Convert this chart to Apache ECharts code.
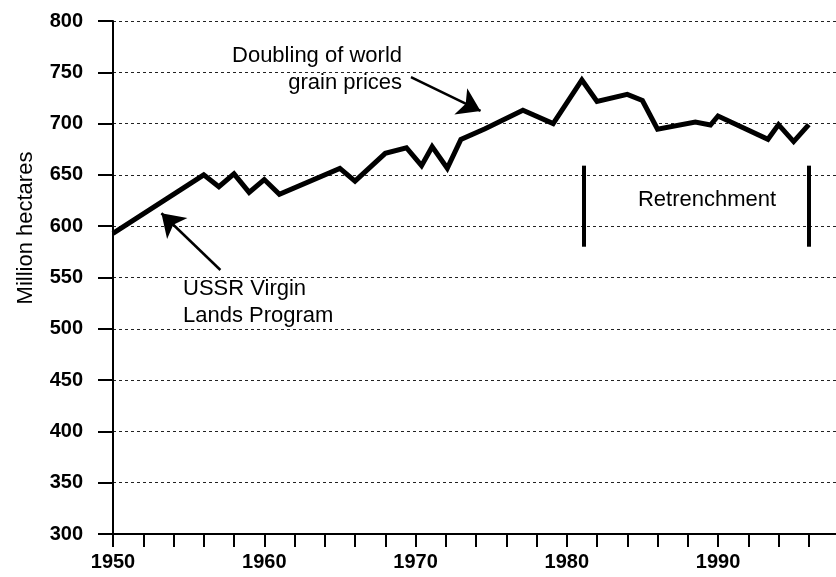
<!DOCTYPE html>
<html>
<head>
<meta charset="utf-8">
<script src="https://cdn.jsdelivr.net/npm/echarts@6/dist/echarts.min.js"></script>
<style>
  html, body { margin: 0; padding: 0; background: #fff; }
  #chart { width: 836px; height: 577px; }
</style>
</head>
<body>
<div id="chart"></div>
<script>
// vertices of the world grain area line (year, million hectares)
const years = [1950, 1956, 1957, 1958, 1959, 1960, 1961, 1965, 1966, 1968, 1969.4, 1970.4, 1971.1, 1972.1, 1973,
  1974.6, 1977.1, 1979.1, 1981, 1982, 1984, 1985, 1986, 1988.5, 1989.5, 1990, 1993.3, 1994, 1995, 1996];
const hectares = [593, 650, 638.5, 651, 633, 645.5, 631, 656.4, 644, 671, 676.5, 659, 677.5, 656.5, 684.5,
  695, 713, 700, 742.5, 721.5, 728.5, 722.5, 694.5, 701.5, 698.6, 707.4, 684.7, 699, 682.5, 699];
const labelYears = [1950, 1960, 1970, 1980, 1990];

// annotation arrows and retrenchment bars, in data units
const arrowPrices = [[1969.7, 745.4], [1974.3, 712.3]];
const arrowVirgin = [[1957.1, 557.3], [1953.2, 612.6]];
const retrenchYears = [1981.1, 1996.0];
const retrenchRange = [580, 659];

const font = '"Liberation Sans", Arial, Helvetica, sans-serif';
const chart = echarts.init(document.getElementById("chart"));

const arrowItem = (pts) => [
  { coord: pts[0], symbol: "none", lineStyle: { width: 2.5, color: "#000", type: "solid" } },
  { coord: pts[1], symbol: "arrow", symbolSize: 22 },
];
const barItem = (yr) => [
  { coord: [yr, retrenchRange[0]], symbol: "none", lineStyle: { width: 4, color: "#000", type: "solid" } },
  { coord: [yr, retrenchRange[1]], symbol: "none" },
];

chart.setOption({
  backgroundColor: "#fff",
  animation: false,
  grid: { left: 113, right: 0, top: 21, bottom: 43 },
  xAxis: {
    type: "value",
    min: 1950,
    max: 1997.8,
    interval: 2,
    axisLine: { show: true, lineStyle: { color: "#000", width: 2 } },
    axisTick: { show: true, length: 13, lineStyle: { color: "#000", width: 2 } },
    axisLabel: {
      margin: 18,
      color: "#000",
      fontFamily: font,
      fontSize: 20,
      fontWeight: "bold",
      showMaxLabel: false,
      formatter: (v) => (labelYears.indexOf(v) >= 0 ? String(v) : ""),
    },
    splitLine: { show: false },
  },
  yAxis: {
    type: "value",
    min: 300,
    max: 800,
    interval: 50,
    axisLine: { show: true, lineStyle: { color: "#000", width: 2 } },
    axisTick: { show: true, length: 15, lineStyle: { color: "#000", width: 2 } },
    axisLabel: { margin: 30, color: "#000", fontFamily: font, fontSize: 20, fontWeight: "bold" },
    splitLine: { show: true, lineStyle: { color: "#222", width: 1, type: [3, 3] } },
  },
  graphic: [
    {
      type: "text", x: 26, y: 228, rotation: Math.PI / 2,
      style: { text: "Million hectares", font: "22px " + font, fill: "#000", align: "center", verticalAlign: "middle" },
    },
    { type: "text", x: 402, y: 56, style: { text: "Doubling of world", font: "22px " + font, fill: "#000", align: "right", verticalAlign: "middle" } },
    { type: "text", x: 402, y: 83, style: { text: "grain prices", font: "22px " + font, fill: "#000", align: "right", verticalAlign: "middle" } },
    { type: "text", x: 183, y: 289, style: { text: "USSR Virgin", font: "22px " + font, fill: "#000", align: "left", verticalAlign: "middle" } },
    { type: "text", x: 183, y: 316, style: { text: "Lands Program", font: "22px " + font, fill: "#000", align: "left", verticalAlign: "middle" } },
    { type: "text", x: 707, y: 200, style: { text: "Retrenchment", font: "22px " + font, fill: "#000", align: "center", verticalAlign: "middle" } },
  ],
  series: [
    {
      type: "line",
      data: years.map((y, i) => [y, hectares[i]]),
      showSymbol: false,
      lineStyle: { color: "#000", width: 5, join: "miter" },
      markLine: {
        silent: true,
        animation: false,
        label: { show: false },
        itemStyle: { color: "#000" },
        data: [arrowItem(arrowPrices), arrowItem(arrowVirgin), barItem(retrenchYears[0]), barItem(retrenchYears[1])],
      },
    },
  ],
});
</script>
</body>
</html>
